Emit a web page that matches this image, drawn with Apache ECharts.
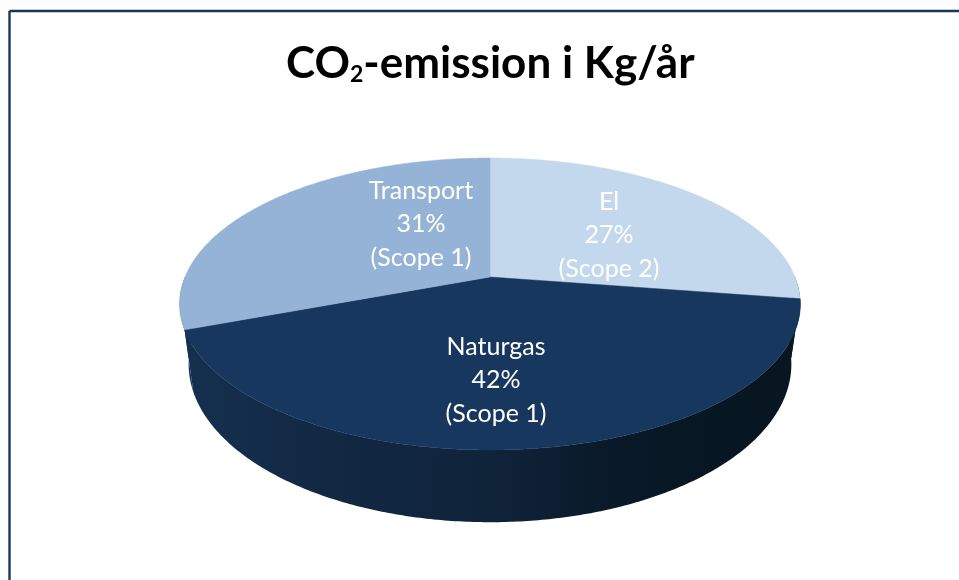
<!DOCTYPE html>
<html>
<head>
<meta charset="utf-8">
<title>CO2-emission</title>
<script src="https://cdn.jsdelivr.net/npm/echarts@6/dist/echarts.min.js"></script>
<style>
  html, body { margin: 0; padding: 0; background: #fff; }
  #chart { width: 959px; height: 580px; }
</style>
</head>
<body>
<div id="chart"></div>
<script>
const categories = ['El', 'Naturgas', 'Transport'];
// labels on the picture are rounded, the cut lines sit a bit off 27/42/31
const shares = [27.4, 41.9, 30.7];
const scopes = ['(Scope 2)', '(Scope 1)', '(Scope 1)'];

const faceColors = ['#C3D7ED', '#17375E', '#95B3D7'];
const labelCenters = [[609, 235], [496, 380], [421, 224]];

// the tilted disc, as a projected circle
const cx = 490, cy = 277, radius = 305, squash = 141, persp = 0.185;
// the lower rim is a bit narrower and rounder than the top
const floorX = 0.971, floorY = 1.082, floorDrop = 58;

const total = shares.reduce((a, b) => a + b, 0);
let run = 0;
const startShare = shares.map(v => { const s = run; run += v; return s; });

function project(theta, sx, sy, drop) {
  const u = Math.sin(theta), v = -Math.cos(theta);
  const w = 1 - persp * v;
  return [
    cx + sx * radius * u / w,
    cy + drop + sy * squash * v / w
  ];
}

function arc(a0, a1, sx, sy, drop) {
  const pts = [];
  const n = Math.max(2, Math.ceil(Math.abs(a1 - a0) / 0.01));
  for (let i = 0; i <= n; i++) {
    pts.push(project(a0 + (a1 - a0) * i / n, sx, sy, drop));
  }
  return pts;
}

function renderSlice(params, api) {
  const i = params.dataIndex;
  const a0 = api.value(1) / total * Math.PI * 2;
  const a1 = (api.value(1) + api.value(0)) / total * Math.PI * 2;
  const top = arc(a0, a1, 1, 1, 0);
  const children = [];

  // only the front half of the wall can be seen
  const from = Math.max(a0, Math.PI * 0.5), to = Math.min(a1, Math.PI * 1.5);
  if (to > from) {
    const wall = arc(from, to, 1, 1, 0).concat(arc(to, from, floorX, floorY, floorDrop));
    children.push({
      type: 'polygon',
      z2: 1,
      shape: { points: wall },
      style: {
        fill: new echarts.graphic.LinearGradient(185, 0, 800, 0, [
          { offset: 0, color: '#14304F' },
          { offset: 0.235, color: '#122843' },
          { offset: 0.5, color: '#0F2339' },
          { offset: 0.675, color: '#0A1A2B' },
          { offset: 0.81, color: '#071723' },
          { offset: 1, color: '#071621' }
        ], true)
      }
    });
  }

  const color = faceColors[i];
  children.push({
    type: 'polygon',
    z2: 2,
    shape: { points: [[cx, cy]].concat(top) },
    style: { fill: color, stroke: color, lineWidth: 0.5 }
  });

  children.push({
    type: 'text',
    z2: 3,
    x: labelCenters[i][0],
    y: labelCenters[i][1],
    style: {
      text: categories[i] + '\n' + Math.round(shares[i]) + '%\n' + scopes[i],
      fill: '#fff',
      font: '25px Lato',
      lineHeight: 33.5,
      align: 'center',
      verticalAlign: 'middle'
    }
  });

  return { type: 'group', children };
}

const chart = echarts.init(document.getElementById('chart'), null, { renderer: 'canvas' });

chart.setOption({
  animation: false,
  backgroundColor: '#fff',
  title: {
    text: '{t|CO}{s|2}{t|-emission i Kg/år}',
    left: 281,
    top: 27,
    textStyle: {
      rich: {
        t: { fontFamily: 'Lato', fontWeight: 'bold', fontSize: 44, color: '#000', lineHeight: 54, verticalAlign: 'bottom' },
        s: { fontFamily: 'Lato', fontWeight: 'bold', fontSize: 23, color: '#000', lineHeight: 38, verticalAlign: 'bottom' }
      }
    }
  },
  graphic: [
    { type: 'line', shape: { x1: 9.5, y1: 11, x2: 9.5, y2: 580 }, style: { stroke: '#17375E', lineWidth: 2.4 } },
    { type: 'line', shape: { x1: 9.5, y1: 11, x2: 959, y2: 11 }, style: { stroke: '#17375E', lineWidth: 2.4 } }
  ],
  series: [{
    type: 'custom',
    coordinateSystem: 'none',
    renderItem: renderSlice,
    data: shares.map((v, i) => [v, startShare[i]])
  }]
});
</script>
</body>
</html>
